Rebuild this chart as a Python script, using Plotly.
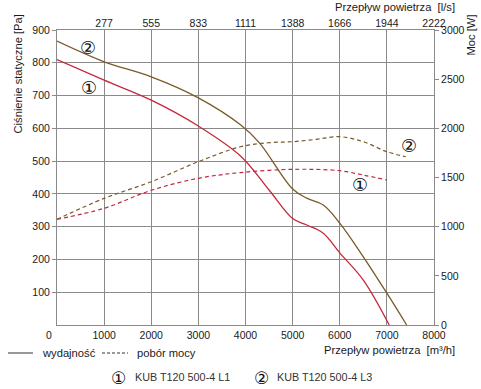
import plotly.graph_objects as go

# Airflow [m3/h]
flow_p1 = [0, 1000, 2000, 3000, 3900, 4500, 5000, 5300, 5650, 6000, 6500, 7050]
press_l1 = [810, 747, 686, 607, 515, 412, 325, 305, 280, 220, 137, 0]
flow_p3 = [0, 1000, 2000, 3000, 3900, 4300, 5000, 5300, 5650, 6000, 6500, 7000, 7420]
press_l3 = [866, 803, 757, 693, 610, 555, 415, 387, 366, 311, 208, 97, 0]

flow_w1 = [0, 1000, 2000, 3000, 3900, 5000, 6000, 6500, 7000]
power_l1 = [1075, 1187, 1370, 1492, 1550, 1583, 1569, 1525, 1475]
flow_w3 = [0, 1000, 2000, 3000, 3900, 4500, 5000, 5500, 6000, 6500, 7000, 7400]
power_l3 = [1075, 1288, 1457, 1661, 1813, 1854, 1864, 1888, 1915, 1864, 1762, 1711]

x_ticks = [1000, 2000, 3000, 4000, 5000, 6000, 7000, 8000]
ls_labels = ["277", "555", "833", "1111", "1388", "1666", "1944", "2222"]
y_ticks = [100, 200, 300, 400, 500, 600, 700, 800, 900]
w_ticks = [0, 500, 1000, 1500, 2000, 2500, 3000]

RED = "#c4283c"
BROWN = "#7a5a28"
GRID = "#8a8a8a"
TXT = "#1a1a1a"
FONT = "Liberation Sans"

fig = go.Figure()
fig.add_trace(go.Scatter(x=flow_p1, y=press_l1, mode="lines", line=dict(color=RED, width=1.3, shape="spline"), showlegend=False))
fig.add_trace(go.Scatter(x=flow_p3, y=press_l3, mode="lines", line=dict(color=BROWN, width=1.3, shape="spline"), showlegend=False))
fig.add_trace(go.Scatter(x=flow_w1, y=power_l1, xaxis="x2", yaxis="y2", mode="lines",
                         line=dict(color=RED, width=1.2, dash="4px,3px", shape="spline"), showlegend=False))
fig.add_trace(go.Scatter(x=flow_w3, y=power_l3, xaxis="x2", yaxis="y2", mode="lines",
                         line=dict(color=BROWN, width=1.2, dash="4px,3px", shape="spline"), showlegend=False))

TICKF = dict(family=FONT, size=10.5, color=TXT)
fig.update_layout(
    width=481, height=389,
    margin=dict(l=57, r=47, t=30, b=64),
    paper_bgcolor="white", plot_bgcolor="white",
    font=dict(family=FONT, size=11, color=TXT),
    xaxis=dict(range=[0, 8000], tickvals=x_ticks, showgrid=True, gridcolor=GRID, gridwidth=1,
               showline=True, linecolor=GRID, linewidth=1, mirror=True, zeroline=False,
               ticks="", tickfont=TICKF, automargin=False),
    xaxis2=dict(range=[0, 8000], overlaying="x", side="top", tickvals=x_ticks, ticktext=ls_labels,
                showgrid=False, showline=False, zeroline=False, ticks="", tickfont=TICKF, automargin=False),
    yaxis=dict(range=[0, 900], tickvals=y_ticks, showgrid=True, gridcolor=GRID, gridwidth=1,
               showline=True, linecolor=GRID, linewidth=1, mirror=True, zeroline=False,
               ticks="outside", ticklen=4, tickcolor=GRID, tickfont=TICKF, automargin=False),
    yaxis2=dict(range=[0, 3000], overlaying="y", side="right", tickvals=w_ticks, showgrid=False,
                zeroline=False, showline=False, ticks="outside", ticklen=4, tickcolor=GRID,
                tickfont=TICKF, automargin=False),
)

W, H = 481, 389
L, R, T, B = 57, 47, 30, 64
pw, ph = W - L - R, H - T - B

ann = []
def A(text, x, y, **kw):
    base = dict(text=text, showarrow=False, xref="paper", yref="paper",
                x=(x - L) / pw, y=1 - (y - T) / ph,
                font=dict(family=FONT, size=11.2, color=TXT))
    base.update(kw)
    ann.append(base)

A("Ciśnienie statyczne [Pa]", 17, 13, textangle=-90, xanchor="center", yanchor="top")
A("Moc [W]", 470, 13, textangle=-90, xanchor="center", yanchor="top")
A("Przepływ powietrza\u00a0 [l/s]", 457, 7, xanchor="right", yanchor="middle")
A("Przepływ powietrza\u00a0 [m³/h]", 457, 350, xanchor="right", yanchor="middle")
A("wydajność", 40, 353, xanchor="left", yanchor="middle")
A("pobór mocy", 135, 353, xanchor="left", yanchor="middle")
A("KUB T120 500-4 L1", 133, 377, xanchor="left", yanchor="middle", font=dict(family=FONT, size=10.8, color="#333"))
A("KUB T120 500-4 L3", 275, 377, xanchor="left", yanchor="middle", font=dict(family=FONT, size=10.8, color="#333"))
A("①", 118, 378, xanchor="center", yanchor="middle", font=dict(family="DejaVu Sans", size=17, color="#111"))
A("②", 261, 378, xanchor="center", yanchor="middle", font=dict(family="DejaVu Sans", size=17, color="#111"))

ann.append(dict(text="0", x=0, y=0, xref="x", yref="y", xanchor="right", yanchor="top",
                xshift=-3, yshift=-2, showarrow=False, font=TICKF))

# circled markers on the curves (data coords)
circ = dict(family="DejaVu Sans", size=18, color="#111")
for txt, x, y in [("②", 650, 848), ("①", 670, 726), ("②", 7460, 549), ("①", 6420, 430)]:
    ann.append(dict(text=txt, x=x, y=y, xref="x", yref="y", showarrow=False, font=circ))

fig.update_layout(annotations=ann)

ly = 1 - (353 - T) / ph
shapes = [
    dict(type="line", xref="paper", yref="paper", x0=(8 - L) / pw, x1=(33 - L) / pw,
         y0=ly, y1=ly, line=dict(color="#333", width=1)),
    dict(type="line", xref="paper", yref="paper", x0=(102 - L) / pw, x1=(128 - L) / pw,
         y0=ly, y1=ly, line=dict(color="#333", width=1, dash="3px,2px")),
]
fig.update_layout(shapes=shapes)

fig.write_html("out.html", config={"displayModeBar": False},
               post_script="document.body.style.margin='0';document.body.style.padding='0';")
